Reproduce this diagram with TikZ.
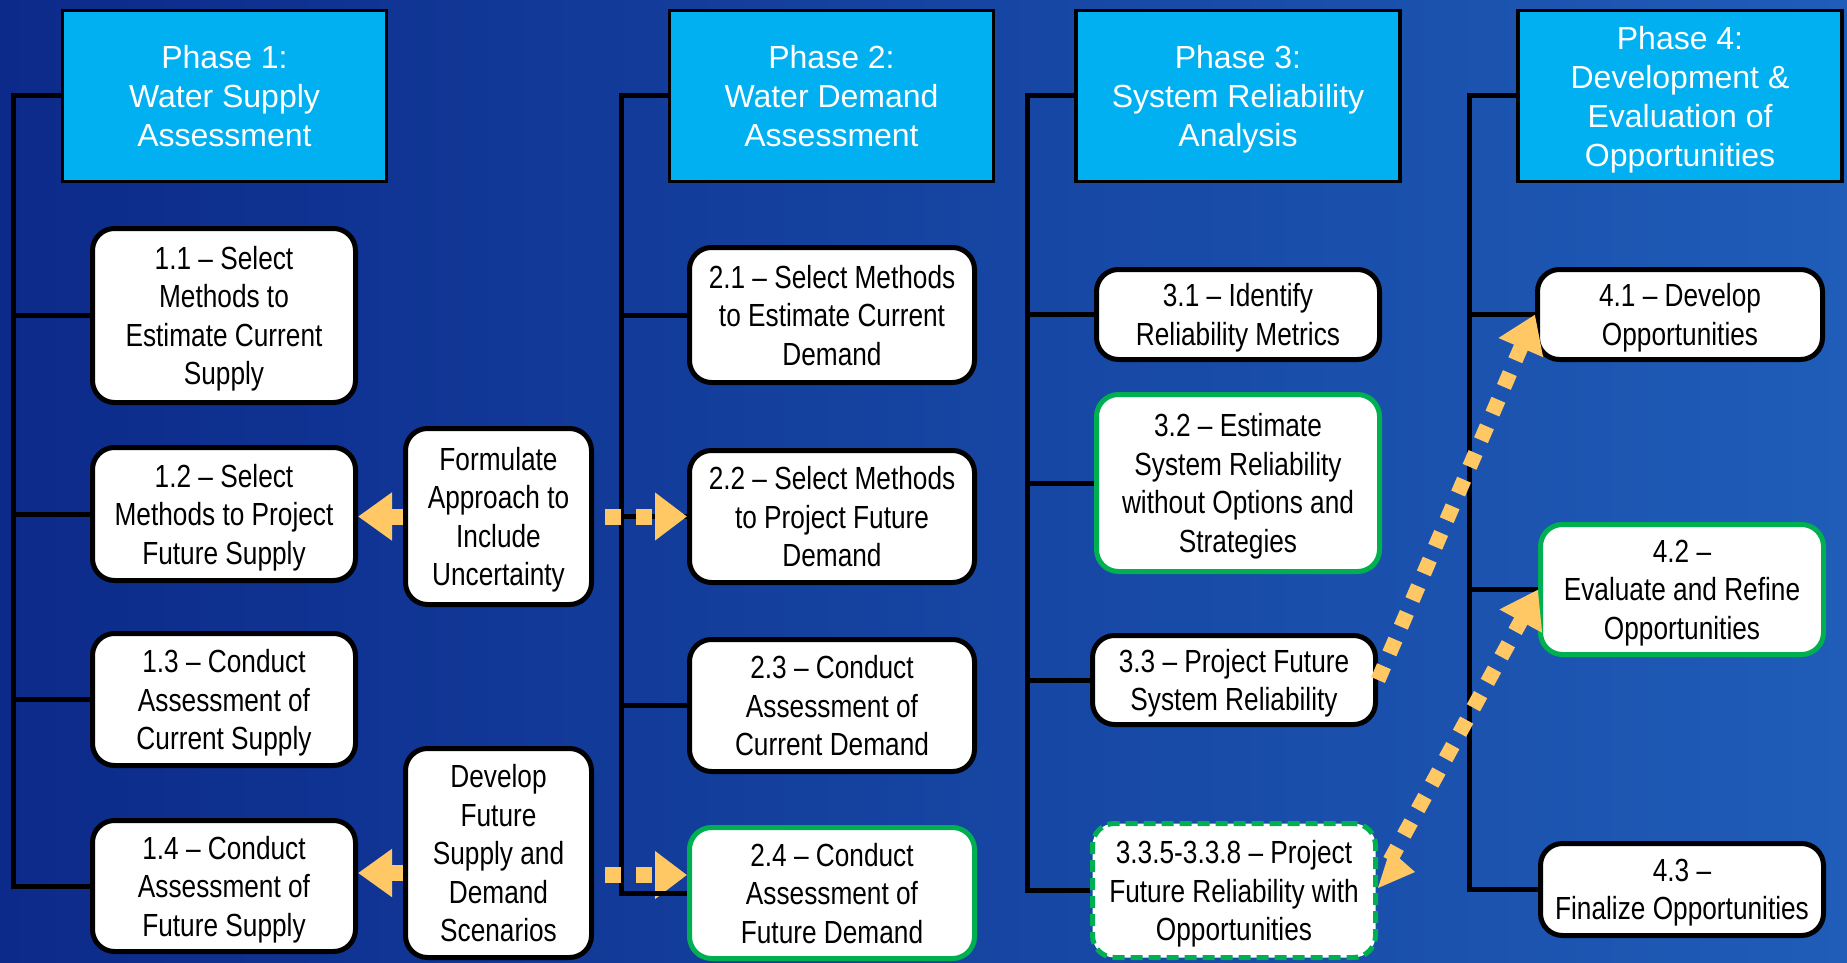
\documentclass[tikz,border=0pt]{standalone}
\usepackage{fontspec}
\setmainfont{Liberation Sans}
\newfontfamily\narrowfont[FakeStretch=0.82,Ligatures=TeX]{Liberation Sans}
\usetikzlibrary{arrows.meta,calc}

\definecolor{bgL}{HTML}{0C2A8A}
\definecolor{bgM}{HTML}{1444A4}
\definecolor{bgR}{HTML}{1F5DB8}
\definecolor{phasefill}{HTML}{00B0F0}
\definecolor{taskgreen}{HTML}{00B050}
\definecolor{flowyellow}{HTML}{FFC864}

\begin{document}
\begin{tikzpicture}[x=1pt,y=-1pt,
  phase/.style={draw=black, line width=3.5pt, fill=phasefill, text=white,
    align=center, minimum width=324pt, minimum height=171pt, inner sep=0pt,
    text depth=0pt, font=\fontsize{32pt}{39pt}\selectfont},
  task/.style={draw=black, line width=5pt, fill=white, rounded corners=22pt,
    align=center, inner sep=0pt, text depth=-7pt,
    font=\narrowfont\fontsize{32pt}{38.5pt}\selectfont},
  keytask/.style={task, draw=taskgreen},
  opentask/.style={task, draw=taskgreen, dash pattern=on 12pt off 6pt},
  tree/.style={draw=black, line width=5pt},
  blockarrow/.style={draw=flowyellow, line width=16pt,
    -{Triangle[length=34pt,width=46pt]}},
  dasharrow/.style={draw=flowyellow, line width=16pt,
    dash pattern=on 16pt off 15pt, dash phase=20pt,
    -{Triangle[length=32pt,width=46pt]}},
  diagarrow/.style={draw=flowyellow, line width=15pt,
    dash pattern=on 15pt off 14pt,
    -{Triangle[length=36pt,width=46pt]}}
]
\useasboundingbox (0,0) rectangle (1847,963);
\shade[left color=bgL, middle color=bgM, right color=bgR] (0,0) rectangle (1847,963);

% phase headers
\node[phase] (P1) at (224.5,96) {Phase 1:\\Water Supply\\Assessment};
\node[phase] (P2) at (831.5,96) {Phase 2:\\Water Demand\\Assessment};
\node[phase] (P3) at (1238,96) {Phase 3:\\System Reliability\\Analysis};
\node[phase] (P4) at (1680,96) {Phase 4:\\Development \&\\Evaluation of\\Opportunities};

% phase 1 tasks
\node[task, minimum width=263pt, minimum height=174pt] (b11) at (224,315.5)
  {1.1 -- Select\\Methods to\\Estimate Current\\Supply};
\node[task, minimum width=263pt, minimum height=133pt] (b12) at (224,514)
  {1.2 -- Select\\Methods to Project\\Future Supply};
\node[task, minimum width=263pt, minimum height=132pt] (b13) at (224,699.5)
  {1.3 -- Conduct\\Assessment of\\Current Supply};
\node[task, minimum width=263pt, minimum height=131pt] (b14) at (224,886)
  {1.4 -- Conduct\\Assessment of\\Future Supply};

% shared supply/demand tasks
\node[task, minimum width=186pt, minimum height=176pt] (form) at (498.5,516.5)
  {Formulate\\Approach to\\Include\\Uncertainty};
\node[task, minimum width=186pt, minimum height=209pt] (dev) at (498.5,853)
  {Develop\\Future\\Supply and\\Demand\\Scenarios};

% phase 2 tasks
\node[task, minimum width=285pt, minimum height=135pt] (b21) at (832,315)
  {2.1 -- Select Methods\\to Estimate Current\\Demand};
\node[task, minimum width=285pt, minimum height=132pt] (b22) at (832,516.5)
  {2.2 -- Select Methods\\to Project Future\\Demand};
\node[task, minimum width=285pt, minimum height=132pt] (b23) at (832,705.5)
  {2.3 -- Conduct\\Assessment of\\Current Demand};
\node[keytask, minimum width=285pt, minimum height=131pt] (b24) at (832,893)
  {2.4 -- Conduct\\Assessment of\\Future Demand};

% phase 3 tasks
\node[task, minimum width=283pt, minimum height=90pt] (b31) at (1238,314.5)
  {3.1 -- Identify\\Reliability Metrics};
\node[keytask, minimum width=283pt, minimum height=177pt] (b32) at (1238,483)
  {3.2 -- Estimate\\System Reliability\\without Options and\\Strategies};
\node[task, minimum width=283pt, minimum height=89pt] (b33) at (1234,680)
  {3.3 -- Project Future\\System Reliability};
\node[opentask, minimum width=283pt, minimum height=134pt] (b335) at (1234,890.5)
  {3.3.5-3.3.8 -- Project\\Future Reliability with\\Opportunities};

% phase 4 tasks
\node[task, minimum width=285pt, minimum height=90pt] (b41) at (1680,314.5)
  {4.1 -- Develop\\Opportunities};
\node[keytask, minimum width=283pt, minimum height=130pt] (b42) at (1682,589.5)
  {4.2 --\\Evaluate and Refine\\Opportunities};
\node[task, minimum width=283pt, minimum height=92pt] (b43) at (1682,889.5)
  {4.3 --\\Finalize Opportunities};

% trunk lines of each phase
\coordinate (s1) at (13,0);
\coordinate (s2) at (621,0);
\coordinate (s3) at (1027,0);
\coordinate (s4) at (1469,0);

\draw[tree] (P1.west) -| (s1 |- b14.west) -- (b14.west);
\foreach \b in {b11,b12,b13} \draw[tree] (s1 |- \b.west) -- (\b.west);
\draw[tree] (P2.west) -| (s2 |- b24.west) -- (b24.west);
\foreach \b in {b21,b22,b23} \draw[tree] (s2 |- \b.west) -- (\b.west);
\draw[tree] (P3.west) -| (s3 |- b335.west) -- (b335.west);
\foreach \b in {b31,b32,b33} \draw[tree] (s3 |- \b.west) -- (\b.west);
\draw[tree] (P4.west) -| (s4 |- b43.west) -- (b43.west);
\foreach \b in {b41,b42} \draw[tree] (s4 |- \b.west) -- (\b.west);

% flows out of the shared tasks
\draw[blockarrow] (form.west) -- (form.west -| b12.east);
\draw[blockarrow] ([yshift=-20pt]dev.west) -- ([yshift=-20pt]dev.west -| b14.east);
\draw[dasharrow] (form.east) -- (form.east -| b22.west);
\draw[dasharrow] ([yshift=-22pt]dev.east) -- ([yshift=-22pt]dev.east -| b24.west);
% the 2.4 branch runs over its arrow
\draw[tree] (s2 |- b24.west) -- (b24.west);

% flows into phase 4
\draw[diagarrow] (b33.east) -- (b41.west);
\draw[diagarrow] ([xshift=12pt,yshift=30pt]b335.east) -- (b42.west);
\fill[flowyellow] (1390,850) -- (1415,872) -- (1378,888) -- cycle;
\end{tikzpicture}
\end{document}
